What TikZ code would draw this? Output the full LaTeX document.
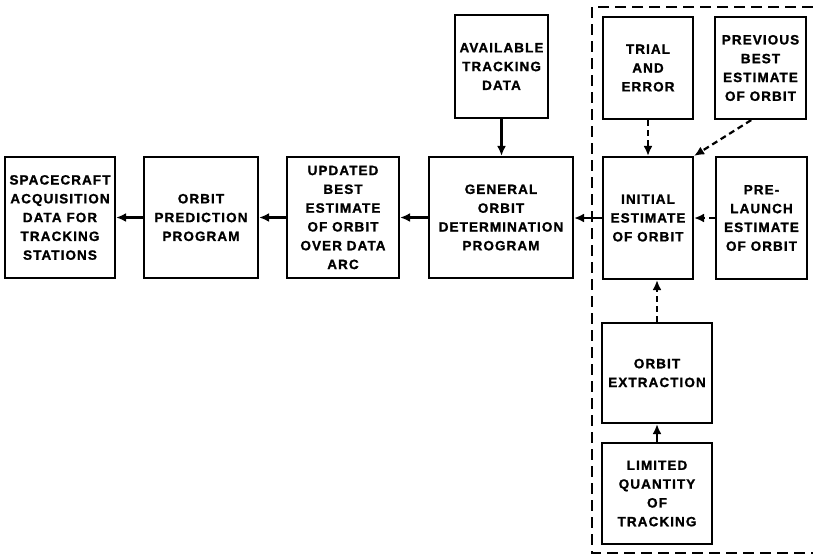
\documentclass[tikz,border=0pt]{standalone}
\usepackage{fontspec}
\setmainfont{Liberation Sans}[LetterSpace=8, BoldFeatures={FakeBold=1.2}]
\usetikzlibrary{arrows.meta,calc}
\tikzset{
  box/.style={draw, line width=2.2pt, fill=white, align=center, inner sep=0pt,
    font=\fontsize{13.5}{18.8}\selectfont\bfseries},
  arr/.style={line width=2.2pt, -{Latex[length=10pt,width=9pt]}},
  darr/.style={arr, dash pattern=on 6pt off 4pt},
  frame/.style={line width=1.8pt, dash pattern=on 11pt off 6pt},
}
\begin{document}
\begin{tikzpicture}[x=1pt,y=-1pt]
\useasboundingbox (0,0) rectangle (813,557);
% dashed region
\coordinate (f1) at (813,7);
\coordinate (f2) at (592,7);
\coordinate (f3) at (592,553);
\coordinate (f4) at (813,553);
\draw[frame] (f1) -- (f2) -- (f3) -- (f4);
% boxes
\node[box, minimum width=110pt, minimum height=121pt] (sc) at (60,217.5)
  {SPACECRAFT\\ACQUISITION\\DATA FOR\\TRACKING\\STATIONS};
\node[box, minimum width=114pt, minimum height=121pt] (op) at (201,217.5)
  {ORBIT\\PREDICTION\\PROGRAM};
\node[box, minimum width=112pt, minimum height=121pt] (up) at (343,217.5)
  {UPDATED\\BEST\\ESTIMATE\\OF ORBIT\\OVER DATA\\ARC};
\node[box, minimum width=144pt, minimum height=121pt] (gen) at (501,217.5)
  {GENERAL\\ORBIT\\DETERMINATION\\PROGRAM};
\node[box, minimum width=93pt, minimum height=103pt] (avail) at (501.5,66.5)
  {AVAILABLE\\TRACKING\\DATA};
\node[box, minimum width=90pt, minimum height=102pt] (trial) at (648,68)
  {TRIAL\\AND\\ERROR};
\node[box, minimum width=91pt, minimum height=102pt] (prev) at (760.5,68)
  {PREVIOUS\\BEST\\ESTIMATE\\OF ORBIT};
\node[box, minimum width=90pt, minimum height=122pt] (init) at (648,218)
  {INITIAL\\ESTIMATE\\OF ORBIT};
\node[box, minimum width=91pt, minimum height=122pt] (pre) at (761.5,218)
  {PRE-\\LAUNCH\\ESTIMATE\\OF ORBIT};
\node[box, minimum width=110pt, minimum height=100pt] (ext) at (657,373)
  {ORBIT\\EXTRACTION};
\node[box, minimum width=110pt, minimum height=101pt] (lim) at (657,493.5)
  {LIMITED\\QUANTITY\\OF\\TRACKING};
% connectors
\draw[arr] (op.west) -- (sc.east);
\draw[arr] (up.west) -- (op.west -| op.east);
\draw[arr] (gen.west) -- (up.east);
\draw[arr] (init.west) -- (init.west -| gen.east);
\draw[arr] (avail.south) -- (avail.south |- gen.north);
\draw[darr] (pre.west) -- (init.east);
\draw[darr] (trial.south) -- (init.north);
\draw[darr] ($(prev.south west)!0.4!(prev.south east)$) -- (init.north east);
\draw[darr] (ext.north) -- (ext.north |- init.south);
\draw[arr] (lim.north) -- (ext.south);
\end{tikzpicture}
\end{document}
